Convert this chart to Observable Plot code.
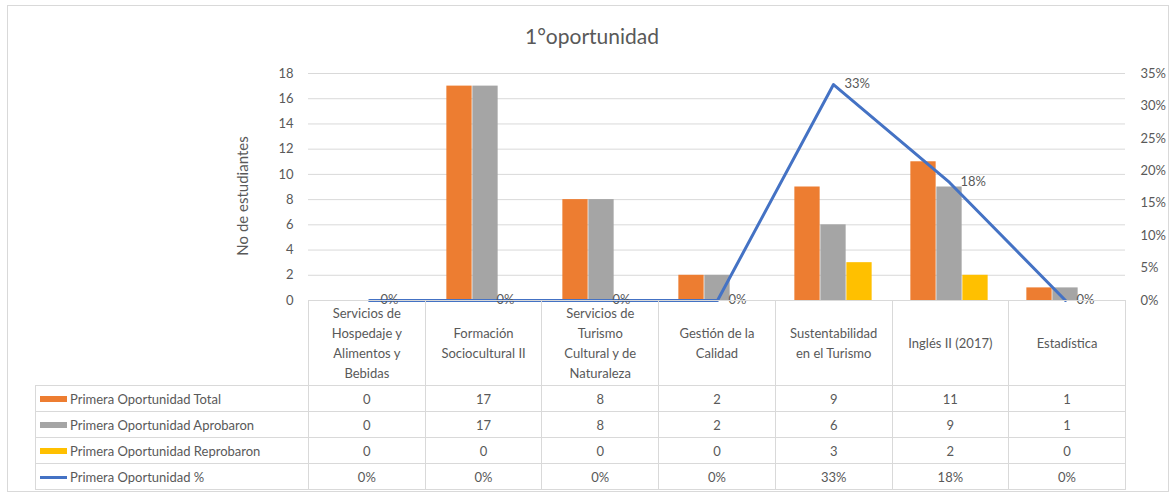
<!DOCTYPE html>
<html>
<head>
<meta charset="utf-8">
<script src="https://cdn.jsdelivr.net/npm/d3@7"></script>
<script src="https://cdn.jsdelivr.net/npm/@observablehq/plot@0.6"></script>
<style>
  html, body { margin: 0; padding: 0; background: #fff; }
  #wrap { position: relative; width: 1176px; height: 493px; font-family: Lato, "Open Sans", sans-serif; color: #595959; }
  #frame { position: absolute; left: 7px; top: 5px; width: 1160px; height: 485px; border: 1px solid #d9d9d9; pointer-events: none; }
  #title { position: absolute; left: 0; width: 1184px; top: 23px; text-align: center; font-size: 21px; color: #595959; }
  #tbl { position: absolute; border-collapse: collapse; table-layout: fixed; font-size: 13px; color: #595959; }
  #tbl td { border: 1px solid #d9d9d9; padding: 0; text-align: center; vertical-align: middle; white-space: nowrap; overflow: hidden; }
  #tbl td.blank { border: none; }
  #tbl td.hdr { line-height: 20px; }
  #tbl td.lab { text-align: left; padding-left: 4px; }
  .key { display: inline-block; width: 27px; vertical-align: middle; margin-right: 3px; position: relative; top: -1px; }
</style>
</head>
<body>
<div id="wrap">
  <div id="title">1°oportunidad</div>
  <div id="frame"></div>
</div>
<script>
// ---- data ----
const categories = [
  "Servicios de Hospedaje y Alimentos y Bebidas",
  "Formación Sociocultural II",
  "Servicios de Turismo Cultural y de Naturaleza",
  "Gestión de la Calidad",
  "Sustentabilidad en el Turismo",
  "Inglés II (2017)",
  "Estadística"
];
const categoryLines = [
  ["Servicios de", "Hospedaje y", "Alimentos y", "Bebidas"],
  ["Formación", "Sociocultural II"],
  ["Servicios de", "Turismo", "Cultural y de", "Naturaleza"],
  ["Gestión de la", "Calidad"],
  ["Sustentabilidad", "en el Turismo"],
  ["Inglés II (2017)"],
  ["Estadística"]
];
const seriesNames = [
  "Primera Oportunidad Total",
  "Primera Oportunidad Aprobaron",
  "Primera Oportunidad Reprobaron",
  "Primera Oportunidad %"
];
const totalValues = [0, 17, 8, 2, 9, 11, 1];
const aprobaronValues = [0, 17, 8, 2, 6, 9, 1];
const reprobaronValues = [0, 0, 0, 0, 3, 2, 0];
const percentValues = [0, 0, 0, 0, 0.333, 0.182, 0];
const leftTicks = [0, 2, 4, 6, 8, 10, 12, 14, 16, 18];
const rightTicks = [0, 0.05, 0.10, 0.15, 0.20, 0.25, 0.30, 0.35];
const yLabel = "No de estudiantes";

// ---- styling ----
const colors = ["#ED7D31", "#A5A5A5", "#FFC000", "#4472C4"];
const W = 1176, H = 493;
const mL = 308, mR = 51, mT = 73, mB = 193;
const yMax = 18, pMax = 0.35;
const k = yMax / pMax;
const bw = (W - mL - mR) / categories.length;
const barW = 26;
const off = (bw - 3 * barW) / 2;
const fmtPct = d3.format(".0%");

const barSeries = [totalValues, aprobaronValues, reprobaronValues];
const barMarks = barSeries.map((vals, i) =>
  Plot.barY(categories.map((c, j) => ({cat: c, v: vals[j]})), {
    x: "cat", y: "v", fill: colors[i],
    insetLeft: off + i * barW, insetRight: bw - off - (i + 1) * barW
  })
);
const pctRows = categories.map((c, j) => ({cat: c, p: percentValues[j]}));

const chart = Plot.plot({
  width: W, height: H,
  marginLeft: mL, marginRight: mR, marginTop: mT, marginBottom: mB,
  style: {fontFamily: "Lato, 'Open Sans', sans-serif", fontSize: "13px", color: "#595959", background: "transparent"},
  x: {domain: categories, padding: 0, axis: null},
  y: {domain: [0, yMax]},
  marks: [
    Plot.gridY(leftTicks, {stroke: "#d9d9d9", strokeOpacity: 1}),
    Plot.axisY(leftTicks, {anchor: "left", tickSize: 0, tickPadding: 15, fontSize: 13, label: null}),
    Plot.axisY(rightTicks.map(p => p * k), {anchor: "right", tickSize: 0, tickPadding: 15, fontSize: 13,
      tickFormat: d => fmtPct(d / k), label: null}),
    Plot.text([yLabel], {frameAnchor: "left", textAnchor: "middle", lineAnchor: "middle", text: d => d,
      rotate: -90, dx: -65, dy: 9, fontSize: 15, fill: "#595959"}),
    ...barMarks,
    Plot.line(pctRows, {x: "cat", y: d => d.p * k, stroke: colors[3], strokeWidth: 3}),
    Plot.text(pctRows, {x: "cat", y: d => d.p * k, text: d => fmtPct(d.p), textAnchor: "start", dx: 11, dy: -1, fill: "#595959", fontSize: 13})
  ]
});
chart.style.position = "absolute";
chart.style.left = "0px";
chart.style.top = "0px";
const wrap = document.getElementById("wrap");
wrap.insertBefore(chart, wrap.firstChild);

// ---- data table below the plot ----
const tbl = document.createElement("table");
tbl.id = "tbl";
const firstW = mL - 35;
tbl.style.left = "35px";
tbl.style.top = (H - mB) + "px";
tbl.style.width = (firstW + bw * categories.length) + "px";
const cg = document.createElement("colgroup");
[firstW, ...categories.map(() => bw)].forEach(w => {
  const col = document.createElement("col");
  col.style.width = w + "px";
  cg.appendChild(col);
});
tbl.appendChild(cg);
const hr = tbl.insertRow();
hr.style.height = "85px";
const blank = hr.insertCell(); blank.className = "blank";
categoryLines.forEach(lines => {
  const td = hr.insertCell();
  td.className = "hdr";
  td.innerHTML = lines.join("<br>");
});
const rowVals = [totalValues, aprobaronValues, reprobaronValues, percentValues];
rowVals.forEach((vals, i) => {
  const tr = tbl.insertRow();
  tr.style.height = "26px";
  const lab = tr.insertCell();
  lab.className = "lab";
  const key = document.createElement("span");
  key.className = "key";
  key.style.background = colors[i];
  key.style.height = i === 3 ? "3px" : "6px";
  lab.appendChild(key);
  lab.appendChild(document.createTextNode(seriesNames[i]));
  vals.forEach(v => {
    const td = tr.insertCell();
    td.textContent = i === 3 ? fmtPct(v) : v;
  });
});
wrap.appendChild(tbl);
</script>
</body>
</html>
